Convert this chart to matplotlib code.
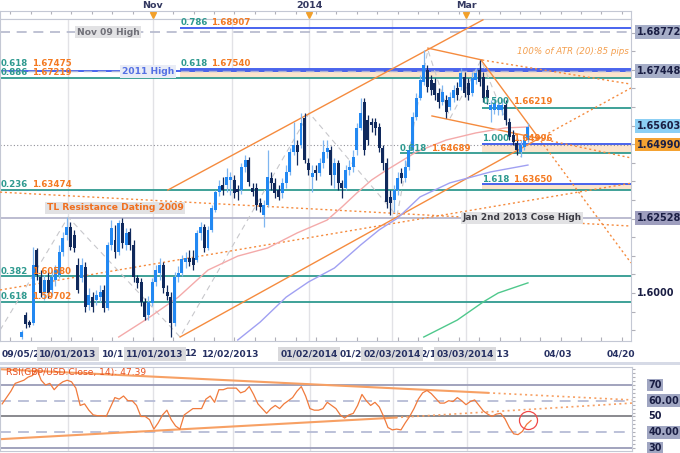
import numpy as np
import matplotlib
matplotlib.use('Agg')
import matplotlib.pyplot as plt
import matplotlib.transforms as mtrans

# ---------------- data ----------------
opens = [1.5852, 1.5926, 1.5902, 1.5899, 1.6144, 1.6054, 1.6000, 1.6044, 1.6010, 1.6044,
         1.6060, 1.6138, 1.6195, 1.6222, 1.6195, 1.6094, 1.6050, 1.6087, 1.5960, 1.5986,
         1.5976, 1.5986, 1.6010, 1.5949, 1.6161, 1.6178, 1.6138, 1.6235, 1.6161, 1.6205,
         1.6161, 1.6050, 1.6037, 1.5970, 1.5926, 1.5966, 1.6037, 1.6067, 1.6094, 1.6003,
         1.5986, 1.5899, 1.6054, 1.6067, 1.6104, 1.6118, 1.6118, 1.6111, 1.6202, 1.6222,
         1.6151, 1.6212, 1.6279, 1.6339, 1.6363, 1.6363, 1.6380, 1.6380, 1.6349, 1.6346,
         1.6423, 1.6447, 1.6353, 1.6353, 1.6303, 1.6262, 1.6296, 1.6386, 1.6369, 1.6346,
         1.6336, 1.6369, 1.6406, 1.6474, 1.6497, 1.6497, 1.6588, 1.6437, 1.6389, 1.6413,
         1.6403, 1.6437, 1.6474, 1.6480, 1.6396, 1.6437, 1.6369, 1.6353, 1.6413, 1.6423,
         1.6480, 1.6554, 1.6642, 1.6582, 1.6575, 1.6575, 1.6558, 1.6487, 1.6437, 1.6323,
         1.6313, 1.6346, 1.6403, 1.6386, 1.6423, 1.6480, 1.6592, 1.6656, 1.6709, 1.6750,
         1.6716, 1.6706, 1.6673, 1.6642, 1.6649, 1.6625, 1.6656, 1.6689, 1.6693, 1.6726,
         1.6706, 1.6673, 1.6716, 1.6750, 1.6726, 1.6683, 1.6615, 1.6615, 1.6615, 1.6615,
         1.6632, 1.6575, 1.6531, 1.6504, 1.6474, 1.6490, 1.6514]
highs = [1.5875, 1.5936, 1.5909, 1.6154, 1.6151, 1.6077, 1.6060, 1.6070, 1.6077, 1.6094,
         1.6161, 1.6205, 1.6255, 1.6239, 1.6212, 1.6118, 1.6118, 1.6104, 1.6017, 1.6003,
         1.6010, 1.6027, 1.6027, 1.6171, 1.6245, 1.6229, 1.6245, 1.6252, 1.6218, 1.6218,
         1.6178, 1.6060, 1.6050, 1.5983, 1.5990, 1.6050, 1.6094, 1.6118, 1.6104, 1.6027,
         1.6003, 1.6070, 1.6091, 1.6128, 1.6138, 1.6144, 1.6144, 1.6212, 1.6239, 1.6232,
         1.6225, 1.6296, 1.6346, 1.6380, 1.6389, 1.6420, 1.6406, 1.6396, 1.6363, 1.6437,
         1.6464, 1.6457, 1.6369, 1.6369, 1.6319, 1.6313, 1.6480, 1.6406, 1.6386, 1.6363,
         1.6386, 1.6430, 1.6487, 1.6575, 1.6514, 1.6605, 1.6605, 1.6454, 1.6430, 1.6430,
         1.6454, 1.6514, 1.6514, 1.6494, 1.6454, 1.6447, 1.6380, 1.6430, 1.6447, 1.6480,
         1.6571, 1.6656, 1.6656, 1.6598, 1.6588, 1.6588, 1.6571, 1.6497, 1.6454, 1.6346,
         1.6363, 1.6406, 1.6420, 1.6447, 1.6497, 1.6609, 1.6673, 1.6733, 1.6817, 1.6767,
         1.6733, 1.6723, 1.6689, 1.6699, 1.6666, 1.6676, 1.6699, 1.6709, 1.6757, 1.6743,
         1.6723, 1.6743, 1.6757, 1.6783, 1.6743, 1.6699, 1.6649, 1.6656, 1.6649, 1.6656,
         1.6649, 1.6588, 1.6548, 1.6521, 1.6514, 1.6531, 1.6571]
lows = [1.5845, 1.5882, 1.5885, 1.5892, 1.6044, 1.5986, 1.5976, 1.5983, 1.5993, 1.6023,
        1.6050, 1.6124, 1.6178, 1.6144, 1.6138, 1.6000, 1.6037, 1.5936, 1.5943, 1.5936,
        1.5960, 1.5970, 1.5936, 1.5943, 1.6144, 1.6118, 1.6128, 1.6151, 1.6144, 1.6144,
        1.6037, 1.6017, 1.5956, 1.5909, 1.5909, 1.5956, 1.6023, 1.6044, 1.6000, 1.5976,
        1.5852, 1.5889, 1.6037, 1.6057, 1.6084, 1.6091, 1.6077, 1.6104, 1.6178, 1.6138,
        1.6144, 1.6205, 1.6272, 1.6326, 1.6329, 1.6339, 1.6329, 1.6319, 1.6313, 1.6333,
        1.6406, 1.6359, 1.6326, 1.6279, 1.6272, 1.6222, 1.6289, 1.6346, 1.6319, 1.6313,
        1.6319, 1.6353, 1.6396, 1.6464, 1.6430, 1.6487, 1.6437, 1.6396, 1.6339, 1.6380,
        1.6393, 1.6420, 1.6454, 1.6363, 1.6353, 1.6346, 1.6319, 1.6346, 1.6396, 1.6406,
        1.6464, 1.6548, 1.6464, 1.6497, 1.6541, 1.6531, 1.6474, 1.6413, 1.6286, 1.6262,
        1.6272, 1.6329, 1.6369, 1.6373, 1.6413, 1.6474, 1.6582, 1.6649, 1.6699, 1.6676,
        1.6666, 1.6649, 1.6622, 1.6632, 1.6588, 1.6615, 1.6642, 1.6649, 1.6683, 1.6659,
        1.6649, 1.6662, 1.6703, 1.6696, 1.6642, 1.6636, 1.6575, 1.6602, 1.6598, 1.6598,
        1.6565, 1.6514, 1.6497, 1.6464, 1.6457, 1.6480, 1.6507]
closes = [1.5869, 1.5895, 1.5892, 1.6094, 1.6060, 1.6000, 1.6044, 1.6000, 1.6054, 1.6077,
          1.6138, 1.6185, 1.6222, 1.6154, 1.6151, 1.6010, 1.6094, 1.5953, 1.5993, 1.5953,
          1.5993, 1.6003, 1.5949, 1.6161, 1.6218, 1.6138, 1.6235, 1.6168, 1.6202, 1.6161,
          1.6054, 1.6033, 1.5970, 1.5919, 1.5970, 1.6037, 1.6077, 1.6094, 1.6017, 1.5990,
          1.5899, 1.6054, 1.6067, 1.6114, 1.6118, 1.6104, 1.6094, 1.6202, 1.6222, 1.6151,
          1.6212, 1.6286, 1.6339, 1.6359, 1.6346, 1.6389, 1.6389, 1.6336, 1.6339, 1.6423,
          1.6447, 1.6373, 1.6339, 1.6296, 1.6289, 1.6296, 1.6389, 1.6369, 1.6336, 1.6323,
          1.6369, 1.6406, 1.6474, 1.6497, 1.6474, 1.6571, 1.6447, 1.6413, 1.6403, 1.6403,
          1.6437, 1.6474, 1.6487, 1.6396, 1.6437, 1.6369, 1.6353, 1.6413, 1.6423, 1.6457,
          1.6554, 1.6605, 1.6480, 1.6514, 1.6565, 1.6554, 1.6487, 1.6437, 1.6306, 1.6303,
          1.6346, 1.6386, 1.6386, 1.6423, 1.6480, 1.6592, 1.6656, 1.6716, 1.6767, 1.6693,
          1.6683, 1.6666, 1.6642, 1.6676, 1.6609, 1.6659, 1.6683, 1.6666, 1.6740, 1.6673,
          1.6666, 1.6723, 1.6740, 1.6709, 1.6656, 1.6656, 1.6632, 1.6639, 1.6632, 1.6632,
          1.6582, 1.6524, 1.6507, 1.6480, 1.6497, 1.6514, 1.6558]

# moving averages (bar index, price)
ma_pink_x = [26, 34, 42, 50, 58, 66, 74, 82, 86, 90, 94, 98, 106, 114, 122, 130, 136]
ma_pink_y = [1.5852, 1.5916, 1.5986, 1.6077, 1.6124, 1.6151, 1.6202, 1.6245, 1.6289, 1.6336,
             1.6380, 1.6413, 1.6474, 1.6514, 1.6538, 1.6555, 1.6558]
ma_purple_x = [58, 64, 71, 77, 84, 91, 96, 101, 107, 115, 126, 136]
ma_purple_y = [1.5842, 1.5902, 1.5986, 1.6037, 1.6084, 1.6161, 1.6212, 1.6252, 1.6323, 1.6370,
               1.6407, 1.6430]
ma_green_x = [108, 117, 124, 128, 136]
ma_green_y = [1.5852, 1.5909, 1.5970, 1.6000, 1.6034]

# zigzag (grey dashed)
zig_x = [-5.9, 12.4, 42.5, 77.2, 100.8, 109.1, 115.1, 123.4, 134.1]
zig_y = [1.5875, 1.6255, 1.5852, 1.6605, 1.6259, 1.6817, 1.6588, 1.6783, 1.6457]

# trendlines: (x0, y0, x1, y1, style)
trendlines = [
    (39.2, 1.6346, 123.9, 1.6918, 'solid'),
    (42.5, 1.5852, 139.2, 1.6521, 'solid'),
    (139.2, 1.6521, 163.7, 1.6689, 'dot'),
    (109.1, 1.6823, 123.7, 1.6783, 'solid'),
    (123.7, 1.6783, 163.7, 1.6702, 'dot'),
    (123.4, 1.6783, 138.7, 1.6524, 'solid'),
    (138.7, 1.6524, 163.7, 1.6101, 'dot'),
    (110.2, 1.6595, 138.4, 1.6521, 'solid'),
    (138.4, 1.6521, 163.7, 1.6454, 'dot'),
    (-5.9, 1.6339, 163.7, 1.6225, 'dot'),
    (-5.9, 1.6010, 163.7, 1.6369, 'dot'),
]

# fibonacci levels: (ratio, price, start bar, colour key)
fib_levels = [
    ('0.786', 1.68907, 42.5, 'blue'),
    ('0.618', 1.67540, 42.5, 'blue'),
    ('0.618', 1.67475, -5.9, 'blue'),
    ('0.886', 1.67219, -5.9, 'teal'),
    ('0.500', 1.66219, 123.7, 'teal'),
    ('1.000', 1.64996, 123.7, 'blue'),
    ('0.618', 1.64689, 101.6, 'teal'),
    ('1.618', 1.63650, 123.7, 'blue'),
    ('0.236', 1.63474, -5.9, 'teal'),
    ('0.382', 1.60580, -5.9, 'teal'),
    ('0.618', 1.59702, -5.9, 'teal'),
]
zones = [(1.67219, 1.67540, 42.5), (1.64689, 1.64996, 123.7), (1.63474, 1.63650, 123.7)]

nov09_high = 1.68772
high_2011 = 1.67448
jan2013_high = 1.62528
last_price = 1.64990

price_labels = ['1.68772', '1.67448', '1.65603', '1.64990', '1.62528', '1.6000']
price_label_vals = [1.68772, 1.67448, 1.65603, 1.64990, 1.62528, 1.6000]

month_x = [12.4, 35.2, 56.5, 77.2, 99.5, 119.4]
top_labels = ['Nov', '2014', 'Mar']
top_label_x = [35.2, 77.2, 119.4]

date_labels = ['10/01/2013', '11/01/2013', '12/02/2013', '01/02/2014', '02/03/2014',
               '03/03/2014', '04/03', '04/20']
date_label_x = [12.37, 35.75, 56.2, 77.15, 99.5, 119.1, 144.1, 161.0]
date_boxed = [True, True, False, True, True, True, False, False]
frag_labels = ['09/05/2', '10/1', '12', '01/2', '2/1', '/13']
frag_x = [-5.4, 21.5, 43.8, 85.5, 107.0, 126.6]

rsi_vals = [58, 62, 66, 71, 72, 73, 75, 76, 80, 73, 70, 71, 67, 70, 72, 73, 72, 68, 57, 58,
            54, 51, 50.5, 50.5, 50, 56, 62, 61, 63, 60, 60, 57, 50, 50, 48, 42, 46, 51, 54, 48,
            44, 42, 51, 53, 55, 55, 55, 61, 63, 59, 67, 67, 68, 68, 68, 65, 66, 69, 64, 58,
            55, 52, 55, 57, 55, 58, 60, 62, 66, 69, 63, 55, 54, 54, 55, 59, 57, 55, 51, 49,
            51, 52, 57, 64, 60, 57, 59, 56, 50, 43, 41.5, 42, 41.5, 46, 50, 55, 61, 65, 66.5, 64.5,
            61.5, 58.5, 58.5, 60, 59.5, 62, 60, 57.5, 59.5, 60.5, 57, 53.5, 51.5, 50, 51.5, 52, 48.5, 43,
            39, 38.5, 40.5, 45, 47.4]
rsi_first_bar = -5.33
rsi_last_bar = 136.6
rsi_upper = [(-5.9, 80.0, 125.0, 65.0, 'solid'), (125.0, 65.0, 163.7, 60.5, 'dot')]
rsi_lower = [(-5.9, 35.6, 100.3, 49.3, 'solid'), (100.3, 49.3, 163.7, 58.5, 'dot')]
rsi_levels = [70, 60, 50, 40, 30]
rsi_level_labels = ['70', '60.00', '50', '40.00', '30']
rsi_last = 47.39

# ---------------- styling ----------------
W, H = 680, 453
def fr(x0, y0, x1, y1):
    return [x0 / W, 1 - y1 / H, (x1 - x0) / W, (y1 - y0) / H]

TEAL = '#2f9a90'
BLUE = '#3a58ee'
ORANGE = '#f47a22'
TL = '#f58b3e'
PEACH = '#fbe4cc'
UPC = '#2288f2'
UPW = '#7fb6f0'
DNC = '#10295c'
SPINE = '#c4c8d4'
XL = (-5.91, 163.7)

plt.rcParams['font.family'] = ['DejaVu Sans']
fig = plt.figure(figsize=(6.8, 4.53), dpi=100)
fig.patch.set_facecolor('white')

# top strip
ax_top = fig.add_axes(fr(0, 11, 631, 19))
ax_top.set_xlim(*XL)
ax_top.set_ylim(0, 1)
ax_top.set_yticks([])
ax_top.set_xticks(np.arange(35.2 - 7 * 5.48, 164, 5.48))
ax_top.tick_params(axis='x', direction='in', length=2.5, top=True, bottom=False,
                   labelbottom=False, colors='#b0b0b8')
for s in ax_top.spines.values():
    s.set_color(SPINE)
for lab, xx in zip(top_labels, top_label_x):
    ax_top.text(xx, 1.75, lab, ha='center', va='center', fontsize=6.8,
                fontweight='bold', color='#333860', clip_on=False)
    ax_top.plot([xx], [0.55], marker='v', color='#f2a02a', markersize=4.5, clip_on=False)

# main panel
ax = fig.add_axes(fr(0, 19, 631, 341))
ax.set_xlim(*XL)
ax.set_ylim(1.58386, 1.69209)
for s in ax.spines.values():
    s.set_color(SPINE)
ax.set_xticks(np.arange(35.2 - 7 * 5.48, 164, 5.48))
ax.tick_params(axis='x', direction='in', length=3, labelbottom=False, colors='#b0b0b8')
ax.yaxis.tick_right()
ax.set_yticks(np.arange(1.5875, 1.6921, 0.00625))
ax.tick_params(axis='y', direction='out', length=3, labelright=False, colors='#b0b0b8')

for mx in month_x:
    ax.axvline(mx, color='#e2e2e6', lw=1.0, zorder=0.5)

for y0, y1, xs in zones:
    ax.fill_between([xs, XL[1]], y0, y1, color=PEACH, lw=0, zorder=1)

for ratio, price, xs, ck in fib_levels:
    ax.hlines(price, xs, XL[1], color=BLUE if ck == 'blue' else TEAL, lw=1.3, zorder=2)

ax.axhline(nov09_high, color='#b4b8cc', lw=1.2, ls=(0, (6, 4)), zorder=2)
ax.axhline(high_2011, color='#a8b0d8', lw=1.0, ls=(0, (6, 4)), zorder=2)
ax.axhline(jan2013_high, color='#b0b0c8', lw=1.2, zorder=2)
ax.axhline(last_price, color='#909098', lw=0.8, ls=(0, (1, 2)), zorder=2)

ax.plot(zig_x, zig_y, color='#c8c8cc', lw=0.8, ls=(0, (5, 4)), zorder=2.2)

for x0, y0, x1, y1, st in trendlines:
    ax.plot([x0, x1], [y0, y1], color=TL, lw=1.0,
            ls='-' if st == 'solid' else (0, (1.5, 2)), zorder=3)

ax.plot(ma_pink_x, ma_pink_y, color='#f4aaaa', lw=1.0, zorder=3)
ax.plot(ma_purple_x, ma_purple_y, color='#a0a0f2', lw=1.0, zorder=3)
ax.plot(ma_green_x, ma_green_y, color='#4fc88c', lw=1.0, zorder=3)

idx = np.arange(len(closes))
o = np.array(opens); c = np.array(closes); h = np.array(highs); l = np.array(lows)
up = c >= o
ax.vlines(idx[up], l[up], h[up], color=UPW, lw=0.9, zorder=4)
ax.vlines(idx[~up], l[~up], h[~up], color=DNC, lw=0.9, zorder=4)
body_b = np.minimum(o, c)
body_h = np.maximum(np.abs(c - o), 0.0002)
ax.bar(idx[up], body_h[up], bottom=body_b[up], width=0.8, color=UPC, lw=0, zorder=4.5)
ax.bar(idx[~up], body_h[~up], bottom=body_b[~up], width=0.8, color=DNC, lw=0, zorder=4.5)

FS = 6.2
def fib_label(x, y, ratio, price):
    t = ax.text(x, y, ratio, ha='left', va='center', fontsize=FS, fontweight='bold',
                color=TEAL, zorder=6)
    ax.annotate(price, xy=(1, 0.5), xycoords=t, xytext=(2.6, 0), textcoords='offset points',
                ha='left', va='center', fontsize=FS, fontweight='bold', color=ORANGE, zorder=6)

fib_label(42.6, 1.69108, '0.786', '1.68907')
fib_label(-5.65, 1.6770, '0.618', '1.67475')
fib_label(-5.65, 1.6740, '0.886', '1.67219')
fib_label(42.6, 1.6773, '0.618', '1.67540')
fib_label(123.9, 1.6642, '0.500', '1.66219')
fib_label(123.7, 1.6518, '1.000', '1.64996')
fib_label(101.6, 1.6487, '0.618', '1.64689')
fib_label(123.7, 1.6380, '1.618', '1.63650')
fib_label(-5.65, 1.6366, '0.236', '1.63474')
fib_label(-5.65, 1.6071, '0.382', '1.60580')
fib_label(-5.65, 1.5987, '0.618', '1.59702')

box = dict(boxstyle='square,pad=0.18', fc='#e2e2e4', ec='none')
ax.text(23.1, nov09_high, 'Nov 09 High', ha='center', va='center', fontsize=6.6,
        fontweight='bold', color='#707078', bbox=box, zorder=6)
ax.text(33.9, high_2011, '2011 High', ha='center', va='center', fontsize=6.6,
        fontweight='bold', color='#5470e4', bbox=dict(boxstyle='square,pad=0.18', fc='#e9ecf6', ec='none'), zorder=6)
ax.text(25.0, 1.6286, 'TL Resistance Dating 2009', ha='center', va='center', fontsize=6.6,
        fontweight='bold', color='#f07020', bbox=box, zorder=6)
ax.text(134.4, jan2013_high, 'Jan 2nd 2013 Cose High', ha='center', va='center', fontsize=6.4,
        fontweight='bold', color='#3c3c44', bbox=box, zorder=6)
ax.text(163.0, 1.6810, '100% of ATR (20):85 pips', ha='right', va='center', fontsize=6.3,
        style='italic', color='#f4a050', zorder=6)

tr = mtrans.blended_transform_factory(ax.transAxes, ax.transData)
label_bg = ['#a6aec8', '#a6aec8', '#8ccff4', '#f4a232', '#9e9ebe', None]
for lab, val, bg in zip(price_labels, price_label_vals, label_bg):
    kw = {}
    if bg:
        kw['bbox'] = dict(boxstyle='square,pad=0.2', fc=bg, ec='none')
    ax.text(1.009, val, lab, transform=tr, ha='left', va='center', fontsize=7,
            fontweight='bold', color='#1a1e44', clip_on=False, **kw)

# date labels
trd = mtrans.blended_transform_factory(ax.transData, ax.transAxes)
for lab, xx in zip(frag_labels, frag_x):
    ax.text(xx, -0.040, lab, transform=trd,
            ha='left', va='center', fontsize=6.6, fontweight='bold', color='#263062', clip_on=False)
for lab, xx, bx in zip(date_labels, date_label_x, date_boxed):
    fc = '#d9d9dc' if bx else 'white'
    ax.text(xx, -0.040, lab, transform=trd,
            ha='center', va='center', fontsize=6.6, fontweight='bold', color='#263062',
            clip_on=False, zorder=7, bbox=dict(boxstyle='square,pad=0.25', fc=fc, ec='none'))

# separator band
fig.patches.append(plt.Rectangle((0, 1 - 365 / H), 1, 3.5 / H, transform=fig.transFigure,
                                 fc='#d6dae6', ec='none'))

# RSI panel
axr = fig.add_axes(fr(0, 367, 632, 451))
axr.set_xlim(*XL)
axr.set_ylim(28.1, 81.4)
for s in axr.spines.values():
    s.set_color(SPINE)
axr.set_xticks([])
axr.yaxis.tick_right()
axr.set_yticks(np.arange(30, 81, 2.5))
axr.tick_params(axis='y', direction='out', length=2.5, labelright=False, colors='#b0b0b8')
for mx in month_x:
    axr.axvline(mx, color='#e2e2e6', lw=1.0, zorder=0.5)
lvl_style = {70: ('#9a9cb8', '-', 1.3), 60: ('#b6bcd6', (0, (6, 4)), 1.3),
             50: ('#6a6a70', '-', 1.1), 40: ('#b6bcd6', (0, (6, 4)), 1.3),
             30: ('#9a9cb8', '-', 1.3)}
for lv in rsi_levels:
    col, ls, lw = lvl_style[lv]
    axr.axhline(lv, color=col, ls=ls, lw=lw, zorder=1)
for x0, y0, x1, y1, st in rsi_upper + rsi_lower:
    axr.plot([x0, x1], [y0, y1], color='#f7a064', lw=1.5 if st == 'solid' else 1.2,
             ls='-' if st == 'solid' else (0, (1.2, 2)), zorder=2)
rsi_x = np.linspace(rsi_first_bar, rsi_last_bar, len(rsi_vals))
axr.plot(rsi_x, rsi_vals, color='#f07a3c', lw=0.9, zorder=3)
axr.plot([135.7], [47.8], marker='o', markersize=13, mfc='none', mec='#f04848', mew=0.9, zorder=4)
axr.text(0.009, 0.94, 'RSI(GBP/USD.Close, 14): %.2f' % rsi_last, transform=axr.transAxes,
         ha='left', va='center', fontsize=6.6, color='#e8501e')
trr = mtrans.blended_transform_factory(axr.transAxes, axr.transData)
rsi_bg = ['#a0a6c2', '#a0a6c2', None, '#a0a6c2', '#a0a6c2']
for lv, lab, bg in zip(rsi_levels, rsi_level_labels, rsi_bg):
    kw = {}
    if bg:
        kw['bbox'] = dict(boxstyle='square,pad=0.15', fc=bg, ec='none')
    axr.text(1.026, lv, lab, transform=trr, ha='left', va='center', fontsize=7,
             fontweight='bold', color='#1a1e44', clip_on=False, **kw)

fig.savefig('out.png', dpi=100)
